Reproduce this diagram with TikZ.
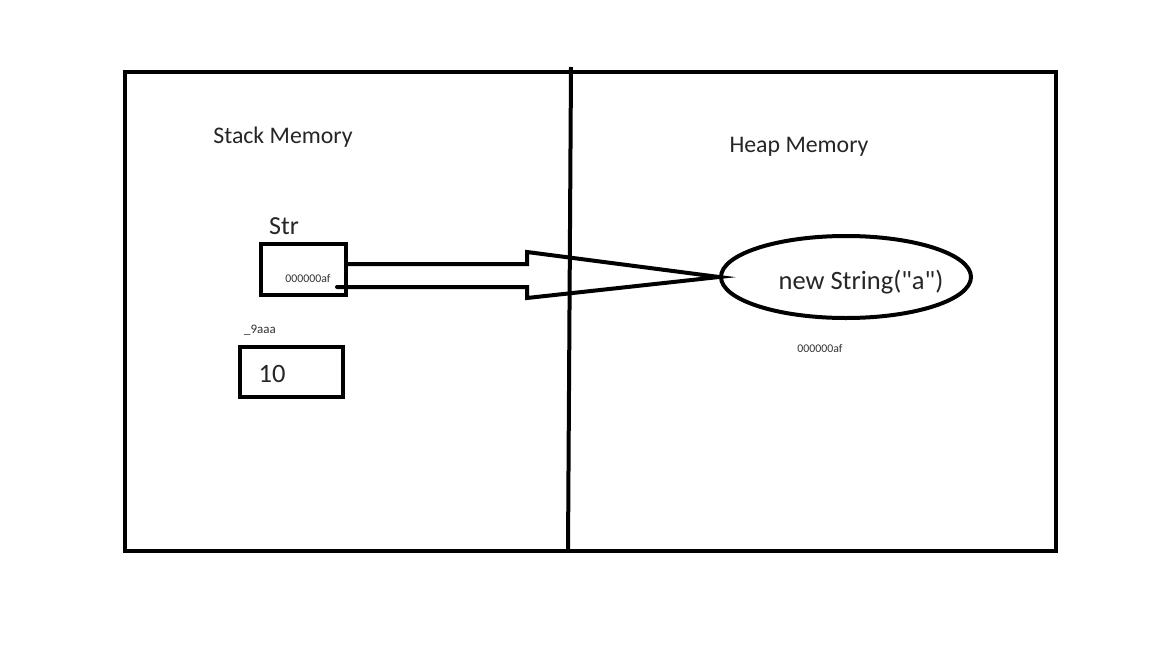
\documentclass[tikz,border=0pt]{standalone}
\usepackage{fontspec}
\setmainfont{Carlito}
\newfontfamily\rawfont{Carlito}
\usetikzlibrary{shapes.geometric}
\begin{document}
\begin{tikzpicture}[x=1pt,y=-1pt,
  thick line/.style={line width=4pt},
  lbl/.style={inner sep=0pt,text=black!85},
  small/.style={inner sep=0pt,font=\fontsize{11.8}{14}\selectfont,text=black!80}]
\useasboundingbox (0,0) rectangle (1152,648);
\fill[white] (0,0) rectangle (1152,648);
% outer frame
\draw[thick line] (125,72) rectangle (1056,551);
\coordinate (dtop) at (571,67);
\coordinate (dbot) at (568,551);
\draw[thick line] (dtop) -- (dbot);
% titles
\node[lbl,font=\fontsize{23.8}{28}\selectfont] (stack) at (283,137) {Stack Memory};
\node[lbl,font=\fontsize{23.8}{28}\selectfont] (heap) at (799,147) {Heap Memory};
% Str box
\node[draw,line width=4pt,minimum width=85pt,minimum height=51pt,inner sep=0pt] (strbox) at (303.5,269.5) {};
\node[lbl,font=\fontsize{26}{30}\selectfont] (strlbl) at (284,226) {Str};
\node[small] (addr1) at (308,278) {000000af};
% 10 box
\node[draw,line width=4pt,minimum width=103pt,minimum height=50pt,inner sep=0pt] (tenbox) at (291.5,372) {};
\node[lbl,font=\fontsize{26.5}{30}\selectfont] (ten) at (272,374) {10};
\node[small,font=\fontsize{13}{15}\selectfont] (var) at (260,330) {\_9aaa};
% ellipse
\node[draw,ellipse,line width=4pt,minimum width=250pt,minimum height=82pt,inner sep=0pt] (obj) at (846,277) {};
\node[lbl,font=\rawfont\fontsize{26.5}{30}\selectfont] (objtxt) at (861,282) {new String("a")};
\node[small] (addr2) at (820,348) {000000af};
% block arrow
\coordinate (a1) at (strbox.east |- 0,264);
\coordinate (a2) at (337,287);
\draw[line width=4pt,line join=miter,line cap=round]
  (a1) -- (527,264) -- (527,252) -- (obj.west) -- (527,298) -- (527,287) -- (a2);
\end{tikzpicture}
\end{document}
